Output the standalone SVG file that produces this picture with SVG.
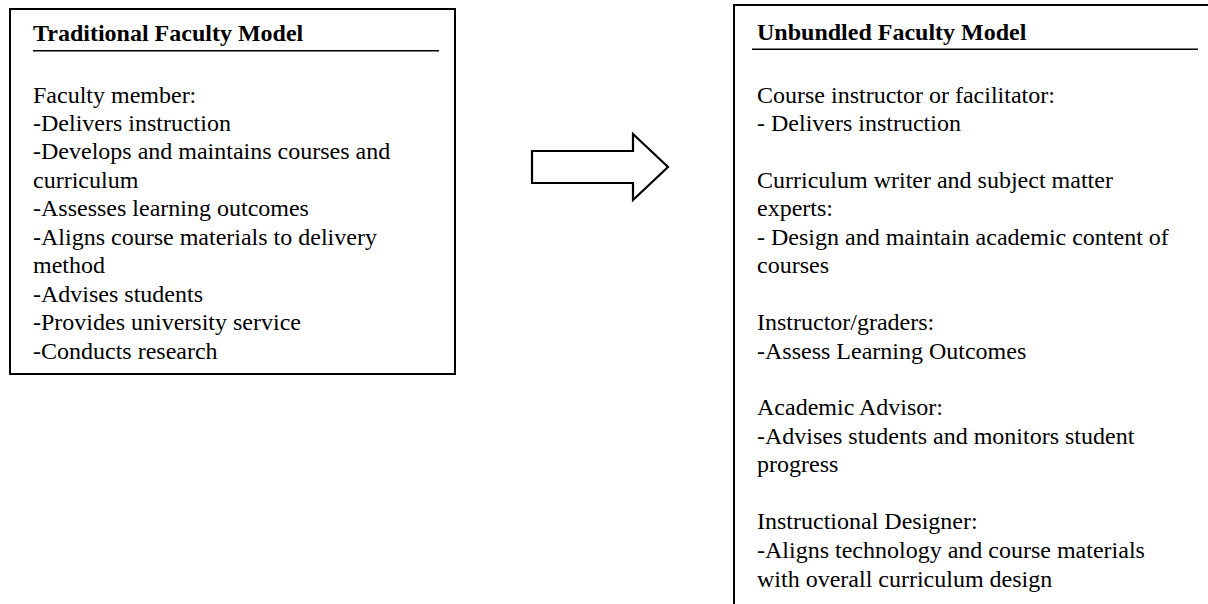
<svg xmlns="http://www.w3.org/2000/svg" width="1208" height="604" viewBox="0 0 1208 604">
<style>
.box{fill:#fff;stroke:#000;stroke-width:2}
.rule{stroke:#000;stroke-width:1.6}
.title{font-family:"Liberation Serif","Times New Roman",serif;font-size:24px;font-weight:bold;fill:#000}
.body{font-family:"Liberation Serif","Times New Roman",serif;font-size:24px;fill:#000}
.arrow{fill:#fff;stroke:#000;stroke-width:2.2;stroke-linejoin:miter}
</style>
<rect width="1208" height="604" fill="#fff"/>
<g id="traditional">
<rect class="box" x="10" y="9" width="445" height="365"/>
<text class="title" x="33" y="40.5">Traditional Faculty Model</text>
<line class="rule" x1="33" y1="50.7" x2="439" y2="50.7"/>
<text class="body" x="33">
<tspan x="33" y="102.5">Faculty member:</tspan>
<tspan x="33" y="130.95">-Delivers instruction</tspan>
<tspan x="33" y="159.4">-Develops and maintains courses and</tspan>
<tspan x="33" y="187.85">curriculum</tspan>
<tspan x="33" y="216.3">-Assesses learning outcomes</tspan>
<tspan x="33" y="244.75">-Aligns course materials to delivery</tspan>
<tspan x="33" y="273.2">method</tspan>
<tspan x="33" y="301.65">-Advises students</tspan>
<tspan x="33" y="330.1">-Provides university service</tspan>
<tspan x="33" y="358.55">-Conducts research</tspan>
</text>
</g>
<g id="connectors">
<polygon class="arrow" points="532,151 633,151 633,134 668,167 633,200 633,183 532,183"/>
</g>
<g id="unbundled">
<rect class="box" x="734" y="5" width="490" height="620"/>
<text class="title" x="757" y="40">Unbundled Faculty Model</text>
<line class="rule" x1="752" y1="49.2" x2="1198" y2="49.2"/>
<text class="body">
<tspan x="757" y="102.5">Course instructor or facilitator:</tspan>
<tspan x="757" y="130.95">- Delivers instruction</tspan>
<tspan x="757" y="187.85">Curriculum writer and subject matter</tspan>
<tspan x="757" y="216.3">experts:</tspan>
<tspan x="757" y="244.75">- Design and maintain academic content of</tspan>
<tspan x="757" y="273.2">courses</tspan>
<tspan x="757" y="330.1">Instructor/graders:</tspan>
<tspan x="757" y="358.55">-Assess Learning Outcomes</tspan>
<tspan x="757" y="415.45">Academic Advisor:</tspan>
<tspan x="757" y="443.9">-Advises students and monitors student</tspan>
<tspan x="757" y="472.35">progress</tspan>
<tspan x="757" y="529.25">Instructional Designer:</tspan>
<tspan x="757" y="557.7">-Aligns technology and course materials</tspan>
<tspan x="757" y="587">with overall curriculum design</tspan>
</text>
</g>
</svg>
